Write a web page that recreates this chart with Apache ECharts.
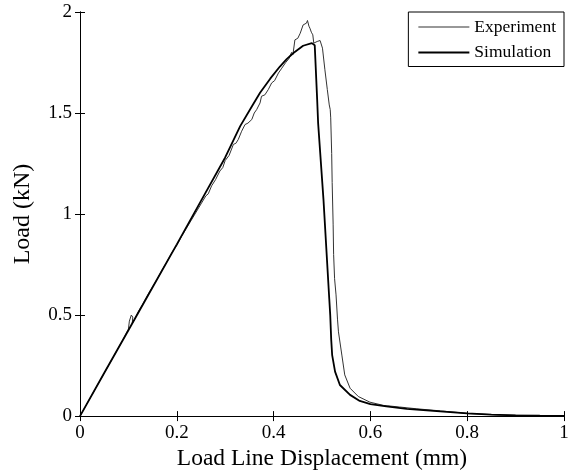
<!DOCTYPE html>
<html>
<head>
<meta charset="utf-8">
<script src="https://cdn.jsdelivr.net/npm/echarts@6/dist/echarts.min.js"></script>
<style>html,body{margin:0;padding:0;background:#fff;}#c{width:575px;height:476px;}</style>
</head>
<body>
<div id="c"></div>
<script>
const xTicks = [0, 0.2, 0.4, 0.6, 0.8, 1];
const yTicks = [0, 0.5, 1, 1.5, 2];
const seriesNames = ['Experiment', 'Simulation'];

const experiment = [
[0,0],[0.03,0.128],[0.06,0.255],[0.09,0.383],[0.1,0.43],[0.102,0.47],[0.106,0.5],[0.109,0.49],[0.108,0.46],[0.112,0.475],[0.12,0.515],[0.13,0.555],[0.14,0.6],[0.15,0.64],[0.16,0.68],[0.17,0.725],[0.18,0.765],[0.19,0.81],[0.2,0.845],[0.21,0.89],[0.22,0.93],[0.23,0.97],[0.24,1.01],[0.25,1.05],[0.26,1.09],[0.265,1.1],[0.272,1.14],[0.28,1.17],[0.289,1.213],[0.295,1.23],[0.3,1.265],[0.308,1.29],[0.317,1.345],[0.322,1.35],[0.327,1.369],[0.334,1.41],[0.341,1.443],[0.347,1.45],[0.355,1.468],[0.36,1.5],[0.365,1.517],[0.372,1.55],[0.375,1.583],[0.382,1.59],[0.389,1.616],[0.396,1.649],[0.402,1.66],[0.41,1.698],[0.417,1.722],[0.425,1.75],[0.432,1.77],[0.437,1.8],[0.44,1.79],[0.444,1.862],[0.45,1.87],[0.455,1.895],[0.458,1.9],[0.461,1.936],[0.465,1.94],[0.468,1.945],[0.47,1.958],[0.473,1.93],[0.475,1.92],[0.478,1.9],[0.481,1.887],[0.483,1.846],[0.487,1.85],[0.49,1.854],[0.493,1.845],[0.496,1.859],[0.501,1.821],[0.506,1.714],[0.511,1.616],[0.515,1.54],[0.517,1.517],[0.518,1.476],[0.52,1.3],[0.521,1.156],[0.523,0.95],[0.524,0.8],[0.526,0.68],[0.529,0.6],[0.532,0.48],[0.534,0.417],[0.541,0.302],[0.547,0.204],[0.558,0.138],[0.575,0.097],[0.599,0.069],[0.627,0.053],[0.66,0.045],[0.696,0.036],[0.744,0.026],[0.78,0.018],[0.8,0.013],[0.83,0.01],[0.86,0.006],[0.9,0.004],[0.95,0.003],[1,0.002]
];

const simulation = [
[0,0],[0.05,0.213],[0.1,0.425],[0.15,0.638],[0.2,0.85],[0.25,1.065],[0.3,1.28],[0.331,1.435],[0.355,1.532],[0.372,1.6],[0.393,1.67],[0.413,1.73],[0.427,1.767],[0.441,1.797],[0.461,1.833],[0.479,1.846],[0.485,1.835],[0.49,1.567],[0.492,1.45],[0.503,1.074],[0.515,0.581],[0.517,0.5],[0.519,0.38],[0.521,0.302],[0.527,0.22],[0.537,0.154],[0.558,0.105],[0.578,0.075],[0.6,0.059],[0.633,0.048],[0.675,0.036],[0.744,0.023],[0.8,0.013],[0.85,0.007],[0.9,0.004],[0.95,0.002],[1,0.001]
];

const font = '"Liberation Serif", "Times New Roman", serif';
const chart = echarts.init(document.getElementById('c'), null, {renderer: 'canvas'});
const axisLine = {show: true, lineStyle: {color: '#000', width: 1}};
const tick = {show: true, inside: true, length: 5, lineStyle: {color: '#000'}};
chart.setOption({
  animation: false,
  backgroundColor: '#fff',
  grid: {left: 80, right: 11, top: 12, bottom: 58, containLabel: false},
  legend: {
    orient: 'vertical', right: 11, top: 12,
    data: [
      {name: seriesNames[0], icon: 'path://M0,0L51,0L51,1L0,1Z'},
      {name: seriesNames[1], icon: 'path://M0,0L51,0L51,2L0,2Z'}
    ],
    backgroundColor: '#fff', borderColor: '#000', borderWidth: 1,
    padding: [6, 8, 5, 10],
    itemWidth: 51, itemHeight: 14, itemGap: 7.5,
    textStyle: {fontFamily: font, fontSize: 17.5, color: '#000'}
  },
  xAxis: [{
    type: 'value', min: xTicks[0], max: xTicks[xTicks.length - 1], interval: 0.2,
    position: 'bottom',
    name: 'Load Line Displacement (mm)', nameLocation: 'middle', nameGap: 30,
    nameTextStyle: {fontFamily: font, fontSize: 23.5, color: '#000'},
    axisLine: axisLine, axisTick: tick,
    axisLabel: {fontFamily: font, fontSize: 19, color: '#000', margin: 7},
    splitLine: {show: false}
  }, {
    type: 'value', min: xTicks[0], max: xTicks[xTicks.length - 1], interval: 0.2,
    position: 'top', axisLine: axisLine, axisTick: tick,
    axisLabel: {show: false}, splitLine: {show: false}
  }],
  yAxis: [{
    type: 'value', min: yTicks[0], max: yTicks[yTicks.length - 1], interval: 0.5,
    position: 'left',
    name: 'Load (kN)', nameLocation: 'middle', nameGap: 45, nameRotate: 90,
    nameTextStyle: {fontFamily: font, fontSize: 24, color: '#000'},
    axisLine: axisLine, axisTick: tick,
    axisLabel: {fontFamily: font, fontSize: 19, color: '#000', margin: 8},
    splitLine: {show: false}
  }, {
    type: 'value', min: yTicks[0], max: yTicks[yTicks.length - 1], interval: 0.5,
    position: 'right', axisLine: axisLine, axisTick: tick,
    axisLabel: {show: false}, splitLine: {show: false}
  }],
  series: [{
    name: seriesNames[0], type: 'line', data: experiment,
    symbol: 'none', showSymbol: false,
    lineStyle: {color: '#333', width: 1}, itemStyle: {color: '#333'}
  }, {
    name: seriesNames[1], type: 'line', data: simulation,
    symbol: 'none', showSymbol: false,
    lineStyle: {color: '#000', width: 1.8}, itemStyle: {color: '#000'}
  }]
});
</script>
</body>
</html>
